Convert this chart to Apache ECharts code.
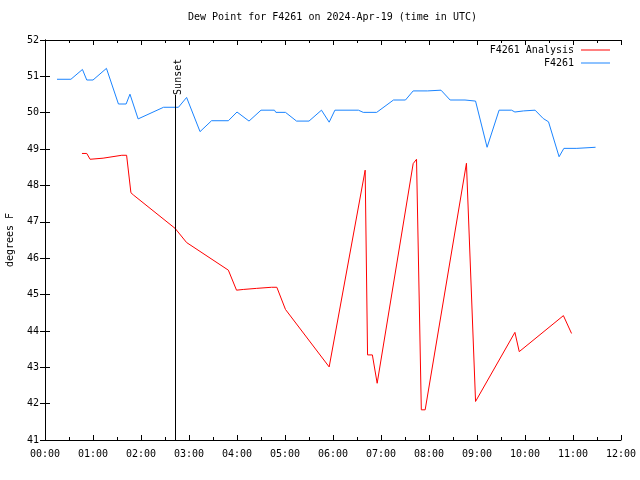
<!DOCTYPE html>
<html><head><meta charset="utf-8">
<script src="https://cdn.jsdelivr.net/npm/echarts@6/dist/echarts.min.js"></script>
<style>html,body{margin:0;padding:0;background:#fff}#c{width:640px;height:480px}</style>
</head><body><div id="c"></div>
<script>
// Time in hours (UTC), values in degrees F
var analysisTimes = [0.77,0.87,0.94,1.21,1.6,1.7,1.79,1.84,2.71,2.95,3.82,3.99,4.13,4.41,4.72,4.83,5.01,5.92,6.67,6.72,6.82,6.92,7.67,7.74,7.84,7.92,8.78,8.97,9.79,9.88,10.8,10.97];
var analysisValues = [48.88,48.88,48.72,48.75,48.83,48.83,47.8,47.74,46.82,46.43,45.67,45.12,45.14,45.17,45.2,45.2,44.59,43.01,48.42,43.34,43.34,42.56,48.6,48.72,41.83,41.83,48.61,42.06,43.96,43.43,44.42,43.93];
var obsTimes = [0.25,0.54,0.78,0.87,1.0,1.28,1.53,1.69,1.77,1.94,2.47,2.78,2.95,3.23,3.47,3.82,4.0,4.25,4.5,4.78,4.81,5.01,5.24,5.5,5.76,5.92,6.04,6.53,6.63,6.91,7.26,7.51,7.67,7.97,8.25,8.44,8.75,8.97,9.21,9.46,9.72,9.79,9.97,10.21,10.38,10.49,10.71,10.81,11.08,11.1,11.47];
var obsValues = [50.92,50.92,51.19,50.9,50.9,51.22,50.24,50.24,50.51,49.83,50.15,50.15,50.42,49.48,49.78,49.78,50.02,49.77,50.07,50.07,50.01,50.01,49.77,49.77,50.07,49.74,50.07,50.07,50.01,50.01,50.35,50.35,50.6,50.6,50.62,50.35,50.35,50.32,49.05,50.07,50.07,50.02,50.05,50.07,49.84,49.75,48.79,49.02,49.02,49.05,49.05];
var sunsetTime = 2.71;
var sunsetTop = 50.49;
var seriesNames = ['F4261 Analysis', 'F4261'];
var xTickLabels = ['00:00','01:00','02:00','03:00','04:00','05:00','06:00','07:00','08:00','09:00','10:00','11:00','12:00'];

function zip(a, b) { return a.map(function (t, i) { return [t, b[i]]; }); }

var mono = 'DejaVu Sans Mono';
var chart = echarts.init(document.getElementById('c'), null, {renderer: 'canvas'});
var axisLine = {show: true, lineStyle: {color: '#000', width: 1}};
chart.setOption({
  animation: false,
  backgroundColor: '#fff',
  title: {
    text: 'Dew Point for F4261 on 2024-Apr-19 (time in UTC)',
    left: 188, top: 12, padding: 0,
    textStyle: {fontFamily: mono, fontSize: 10, fontWeight: 'normal', color: '#000'}
  },
  legend: {
    orient: 'vertical', right: 30, top: 45, align: 'right', padding: 0,
    itemWidth: 29, itemHeight: 1, itemGap: 3, icon: 'rect',
    textStyle: {fontFamily: mono, fontSize: 10, color: '#000', padding: [0, 2, 0, 0]},
    data: seriesNames
  },
  grid: {left: 45, right: 19, top: 40, bottom: 40, containLabel: false, outerBoundsMode: 'none'},
  xAxis: [{
    type: 'value', min: 0, max: 12, interval: 1,
    axisLine: axisLine,
    axisTick: {inside: true, length: 5, lineStyle: {color: '#000'}},
    minorTick: {show: true, splitNumber: 2, length: 3, lineStyle: {color: '#000'}},
    splitLine: {show: false},
    axisLabel: {fontFamily: mono, fontSize: 10, color: '#000', margin: 9,
      formatter: function (v) { return xTickLabels[Math.round(v)]; }}
  }, {
    type: 'value', min: 0, max: 12, interval: 1, position: 'top',
    axisLine: axisLine,
    axisTick: {inside: true, length: 5, lineStyle: {color: '#000'}},
    minorTick: {show: true, splitNumber: 2, length: 3, lineStyle: {color: '#000'}},
    splitLine: {show: false}, axisLabel: {show: false}
  }],
  yAxis: [{
    type: 'value', min: 41, max: 52, interval: 1,
    name: 'degrees F', nameLocation: 'middle', nameGap: 30, nameRotate: 90,
    nameTextStyle: {fontFamily: mono, fontSize: 10, color: '#000'},
    axisLine: axisLine,
    axisTick: {inside: true, length: 5, lineStyle: {color: '#000'}},
    splitLine: {show: false},
    axisLabel: {fontFamily: mono, fontSize: 10, color: '#000', margin: 6}
  }, {
    type: 'value', min: 41, max: 52, interval: 1, position: 'right',
    axisLine: axisLine,
    axisTick: {inside: true, length: 5, lineStyle: {color: '#000'}},
    splitLine: {show: false}, axisLabel: {show: false}
  }],
  series: [{
    name: seriesNames[0], type: 'line', showSymbol: false, symbol: 'none',
    data: zip(analysisTimes, analysisValues),
    lineStyle: {color: '#ff0000', width: 1}, itemStyle: {color: '#ff0000'},
    markLine: {
      silent: true, symbol: ['none', 'none'],
      lineStyle: {color: '#000', width: 1, type: 'solid'},
      label: {show: true, position: 'end', formatter: 'Sunset', rotate: 90,
        align: 'left', verticalAlign: 'middle', offset: [0, 3],
        fontFamily: mono, fontSize: 10, color: '#000', distance: 0},
      data: [[{coord: [sunsetTime, 41]}, {coord: [sunsetTime, sunsetTop]}]]
    }
  }, {
    name: seriesNames[1], type: 'line', showSymbol: false, symbol: 'none',
    data: zip(obsTimes, obsValues),
    lineStyle: {color: '#1a84ff', width: 1}, itemStyle: {color: '#1a84ff'}
  }]
});
</script></body></html>
